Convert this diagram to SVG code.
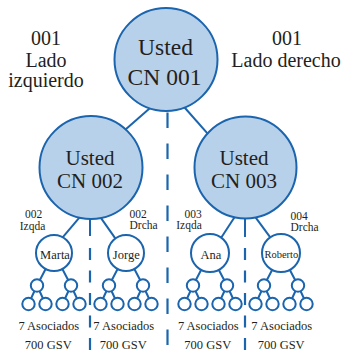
<svg xmlns="http://www.w3.org/2000/svg" width="341" height="352" viewBox="0 0 341 352" font-family="'Liberation Serif', 'DejaVu Serif', serif">
<style>
text{font-family:'Liberation Serif','DejaVu Serif',serif;fill:#231f20;text-anchor:middle}
.big{fill:#b8d1ea;stroke:#1b64ae;stroke-width:2}
.sm{fill:#fff;stroke:#1b64ae;stroke-width:2}
.ln{stroke:#1b64ae;stroke-width:2;fill:none}
.dash{stroke:#1b64ae;stroke-width:2.2;fill:none}
.t20{font-size:20px}
.t23{font-size:23.5px}
.t21{font-size:21px}
.t12{font-size:12.5px}
.t11{font-size:11.5px}
.st{text-anchor:start}
</style>
<rect width="341" height="352" fill="#fff"/>
<g id="connectors">
<line class="dash" x1="167.5" y1="112.5" x2="167.5" y2="352" stroke-dasharray="15.5 15.5"/>
<line class="dash" x1="90" y1="248" x2="90" y2="352" stroke-dasharray="12 10.5"/>
<line class="dash" x1="245" y1="248" x2="245" y2="352" stroke-dasharray="12 10.5"/>
<line class="ln" x1="151.5" y1="106.7" x2="123.5" y2="131.3"/>
<line class="ln" x1="183.7" y1="106.5" x2="208.3" y2="134.4"/>
<line class="ln" x1="80" y1="216.8" x2="62" y2="238.2"/>
<line class="ln" x1="90" y1="217" x2="90" y2="236"/>
<line class="ln" x1="100" y1="216.6" x2="116" y2="239.4"/>
<line class="ln" x1="235" y1="216.5" x2="220" y2="239.5"/>
<line class="ln" x1="245" y1="217" x2="245" y2="237"/>
<line class="ln" x1="255" y1="216.6" x2="271" y2="238.4"/>
<path class="ln" d="M54 253L37 285.5M54 253L71 285.5M37 285.5L28.5 304M37 285.5L45.5 304M71 285.5L62.5 304M71 285.5L79.5 304"/>
<path class="ln" d="M126 253L109 285.5M126 253L143 285.5M109 285.5L100.5 304M109 285.5L117.5 304M143 285.5L134.5 304M143 285.5L151.5 304"/>
<path class="ln" d="M210 253L193 285.5M210 253L227 285.5M193 285.5L184.5 304M193 285.5L201.5 304M227 285.5L218.5 304M227 285.5L235.5 304"/>
<path class="ln" d="M281 253L264 285.5M281 253L298 285.5M264 285.5L255.5 304M264 285.5L272.5 304M298 285.5L289.5 304M298 285.5L306.5 304"/>
</g>
<g id="side-labels">
<text class="t20" x="46" y="45">001</text>
<text class="t20" x="46" y="66.5">Lado</text>
<text class="t20" x="46" y="86.5">izquierdo</text>
<text class="t20" x="287" y="45">001</text>
<text class="t20" x="286" y="66.5">Lado derecho</text>
</g>
<g id="n-cn001">
<circle class="big" cx="166" cy="59.5" r="51.5"/>
<text class="t23" x="165.5" y="55">Usted</text>
<text class="t23" x="164.5" y="85">CN 001</text>
</g>
<g id="n-cn002">
<circle class="big" cx="91" cy="167.5" r="51.5"/>
<text class="t21" x="90" y="165">Usted</text>
<text class="t21" x="90" y="188.3">CN 002</text>
</g>
<g id="n-cn003">
<circle class="big" cx="245.5" cy="167.5" r="51"/>
<text class="t21" x="244" y="165">Usted</text>
<text class="t21" x="244" y="188.3">CN 003</text>
</g>
<g id="leg-labels">
<text class="t11" x="33.5" y="218">002</text>
<text class="t11" x="32.5" y="229.5">Izqda</text>
<text class="t11 st" x="129.5" y="217.5">002</text>
<text class="t11 st" x="129.5" y="229">Drcha</text>
<text class="t11" x="193" y="217.5">003</text>
<text class="t11" x="189" y="229">Izqda</text>
<text class="t11 st" x="290.5" y="219.5">004</text>
<text class="t11 st" x="290.5" y="231">Drcha</text>
</g>
<g id="n-marta">
<circle class="sm" cx="54" cy="253" r="18"/>
<text class="t12" x="55" y="258.5">Marta</text>
<circle class="sm" cx="37" cy="285.5" r="6.2"/><circle class="sm" cx="71" cy="285.5" r="6.2"/>
<circle class="sm" cx="28.5" cy="304" r="6.2"/><circle class="sm" cx="45.5" cy="304" r="6.2"/>
<circle class="sm" cx="62.5" cy="304" r="6.2"/><circle class="sm" cx="79.5" cy="304" r="6.2"/>
<text class="t12" x="48.8" y="330">7 Asociados</text>
<text class="t12" x="48.3" y="348.5">700 GSV</text>
</g>
<g id="n-jorge">
<circle class="sm" cx="126" cy="253" r="18"/>
<text class="t12" x="126.3" y="258.5">Jorge</text>
<circle class="sm" cx="109" cy="285.5" r="6.2"/><circle class="sm" cx="143" cy="285.5" r="6.2"/>
<circle class="sm" cx="100.5" cy="304" r="6.2"/><circle class="sm" cx="117.5" cy="304" r="6.2"/>
<circle class="sm" cx="134.5" cy="304" r="6.2"/><circle class="sm" cx="151.5" cy="304" r="6.2"/>
<text class="t12" x="123.7" y="330">7 Asociados</text>
<text class="t12" x="123.3" y="348.5">700 GSV</text>
</g>
<g id="n-ana">
<circle class="sm" cx="210" cy="253" r="19"/>
<text class="t12" x="210.8" y="258.5">Ana</text>
<circle class="sm" cx="193" cy="285.5" r="6.2"/><circle class="sm" cx="227" cy="285.5" r="6.2"/>
<circle class="sm" cx="184.5" cy="304" r="6.2"/><circle class="sm" cx="201.5" cy="304" r="6.2"/>
<circle class="sm" cx="218.5" cy="304" r="6.2"/><circle class="sm" cx="235.5" cy="304" r="6.2"/>
<text class="t12" x="208.3" y="330">7 Asociados</text>
<text class="t12" x="207.8" y="348.5">700 GSV</text>
</g>
<g id="n-roberto">
<circle class="sm" cx="281" cy="253" r="19"/>
<text x="281.3" y="258.3" style="font-size:10.5px">Roberto</text>
<circle class="sm" cx="264" cy="285.5" r="6.2"/><circle class="sm" cx="298" cy="285.5" r="6.2"/>
<circle class="sm" cx="255.5" cy="304" r="6.2"/><circle class="sm" cx="272.5" cy="304" r="6.2"/>
<circle class="sm" cx="289.5" cy="304" r="6.2"/><circle class="sm" cx="306.5" cy="304" r="6.2"/>
<text class="t12" x="281.7" y="330">7 Asociados</text>
<text class="t12" x="281.2" y="348.5">700 GSV</text>
</g>
</svg>
